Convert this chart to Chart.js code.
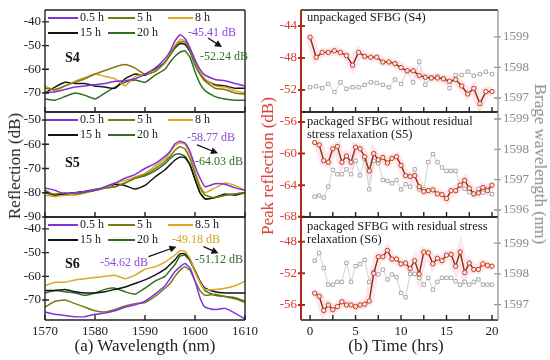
<!DOCTYPE html>
<html>
<head>
<meta charset="utf-8">
<script src="https://cdn.jsdelivr.net/npm/chart.js@4.4.1/dist/chart.umd.min.js"></script>
<style>
  body { margin: 0; background: #fff; }
  #quadro { position: relative; width: 550px; height: 360px; overflow: hidden; font-family: 'Liberation Serif', serif; }
  #quadro canvas { position: absolute; }
  .titulo { position: absolute; font-size: 17px; white-space: nowrap; transform: translate(-50%, -50%); }
</style>
</head>
<body>
<div id="quadro">
  <div class="titulo" style="left:15px; top:166px; transform:translate(-50%,-50%) rotate(-90deg); color:#222;">Reflection (dB)</div>
  <div class="titulo" style="left:268px; top:166px; transform:translate(-50%,-50%) rotate(-90deg); color:#d63a2e;">Peak reflection (dB)</div>
  <div class="titulo" style="left:540px; top:164px; transform:translate(-50%,-50%) rotate(90deg); color:#8a8a8a;">Brage wavelength (nm)</div>
  <div class="titulo" style="left:145px; top:346px; color:#222;">(a) Wavelength (nm)</div>
  <div class="titulo" style="left:396px; top:346px; color:#222;">(b) Time (hrs)</div>
</div>
<script>
// ---------------- dados (a): espectros ----------------
const comprimentoOnda = [1570,1572,1574,1576,1578,1580,1582,1584,1586,1588,1590,1592,1594,1595,1596,1597,1598,1599,1600,1601,1602,1604,1606,1608,1610];

const horasS4 = ['0.5 h', '5 h', '8 h', '15 h', '20 h'];
const s4_05h = [-70,-69.5,-68.5,-67.5,-67,-66.5,-66,-65,-64.8,-64,-62,-59.5,-55.5,-52.5,-48,-45.4,-47,-51,-56,-60,-62.5,-64.3,-64.8,-66,-67];
const s4_5h  = [-68,-68.5,-67,-65.5,-64,-62,-60.5,-59,-58,-59.5,-62,-61,-57,-54,-50.5,-48.5,-48.5,-52,-58,-62,-65,-68,-68.5,-70,-70.5];
const s4_8h  = [-67,-69,-67,-65,-63.5,-62,-63,-64,-67,-63,-62,-60.5,-57.5,-53.5,-50,-47.5,-48,-51,-56.5,-61,-64,-67,-67.5,-69,-70];
const s4_15h = [-70,-67.5,-65.5,-66,-66,-67,-67.5,-68,-64,-62,-62.5,-60,-57,-54,-51,-49.2,-49.5,-52.5,-58,-62,-64.5,-66.5,-67,-68,-68];
const s4_20h = [-72.5,-73,-71.5,-70,-71,-72.5,-70,-67.5,-65.5,-64.5,-65.5,-62.5,-60,-57,-54.5,-52.8,-52.2,-55,-61,-66,-69,-71.5,-72.5,-73,-73];

const horasS5 = ['0.5 h', '5 h', '8 h', '15 h', '20 h'];
const s5_05h = [-78,-79,-80.5,-80,-79.5,-79,-77.5,-76,-74,-72.5,-70,-68,-65,-63,-59.8,-58.8,-59.5,-63,-69,-74,-77.5,-76.3,-76.5,-78,-79];
const s5_5h  = [-80,-80.5,-80,-80.5,-80,-79,-78,-77.5,-76,-74,-72.5,-70,-67,-65,-62.5,-61,-62,-66,-72,-78,-81,-82,-81,-80.5,-80];
const s5_8h  = [-81,-81.5,-81,-81,-80,-79,-78,-76,-75,-73.5,-72,-69,-66,-63.5,-60.5,-59.5,-60,-64,-71,-77,-80,-78,-76,-77,-79];
const s5_15h = [-80,-81,-80.5,-80,-79.5,-79,-78,-76.5,-77,-78.5,-77,-73.5,-70.5,-68.5,-66.5,-65.3,-65.5,-68.5,-74.5,-80,-82.5,-82,-80.5,-81,-80];
const s5_20h = [-79,-81,-80.5,-80,-79.5,-78.5,-78,-77.5,-76,-74,-73,-71,-68,-66,-64.3,-64,-65,-68.5,-74.5,-80,-82.5,-82,-81,-80.5,-80];

const horasS6 = ['0.5 h', '5 h', '8.5 h', '15 h', '20 h'];
const s6_05h = [-75,-76,-76.5,-77,-77,-76,-75.5,-74.5,-73,-72,-70.5,-67.5,-64,-61,-58,-56,-54.6,-56.5,-62,-69,-73,-74,-73.5,-75.5,-78];
const s6_5h  = [-73,-70.5,-70,-71.5,-73,-74.5,-75,-74,-72.5,-71.5,-71,-68.5,-65,-63,-60,-57.5,-56,-57.5,-62,-66,-68,-67.5,-68.5,-69.5,-71];
const s6_85h = [-64,-62.5,-62.5,-61.5,-61,-60.5,-60,-59.5,-61,-59.5,-57,-56,-54,-52.5,-51,-49.2,-49.5,-52.5,-58,-62.5,-65.5,-65.5,-65,-64,-62];
const s6_15h = [-66,-66,-65.5,-66.5,-67,-67,-66.5,-65.5,-64.5,-63,-61.5,-59.5,-57,-55,-53,-50.5,-50.5,-53,-57.5,-62,-65,-66.5,-67,-67,-67];
const s6_20h = [-67,-66,-66.5,-67,-68,-67,-65.5,-65,-66.5,-67.5,-65,-62,-60,-57.5,-55,-51.5,-51.1,-53.5,-58,-62.5,-66,-68,-68.5,-69,-70.5];

// ---------------- dados (b): pico e comprimento de Bragg ----------------
const tempoS4 = [0,0.67,1.33,2,2.67,3.33,4,4.67,5.33,6,6.67,7.33,8,8.67,9.33,10,10.67,11.33,12,12.67,13.33,14,14.67,15.33,16,16.67,17.33,18,18.67,19.33,20];
const picoS4 = [-45.4,-47.9,-47.3,-47.3,-47.1,-47.3,-47.7,-48.9,-47.3,-47.8,-47.9,-47.9,-48.5,-48.5,-48.7,-49.2,-49.6,-49.6,-50.2,-50.4,-50.5,-50.5,-50.6,-50.9,-50.7,-51.5,-52.5,-51.8,-53.7,-52.2,-52.2];
const braggS4 = [1597.35,1597.38,1597.32,1597.46,1597.19,1597.51,1597.30,1597.35,1597.35,1597.43,1597.51,1597.49,1597.43,1597.35,1597.6,1597.46,1597.89,1597.51,1598.19,1597.43,1597.68,1597.71,1597.64,1597.32,1597.75,1597.75,1597.86,1597.73,1597.78,1597.86,1597.78];

const tempo = [0.5,1,1.5,2,2.5,3,3.5,4,4.5,5,5.5,6,6.5,7,7.5,8,8.5,9,9.5,10,10.5,11,11.5,12,12.5,13,13.5,14,14.5,15,15.5,16,16.5,17,17.5,18,18.5,19,19.5,20];
const picoS5 = [-58.6,-58.9,-60.9,-61.1,-59.4,-59.1,-61.1,-60.3,-61.1,-59.2,-59.4,-60.4,-62.2,-60.0,-60.8,-60.5,-61.2,-60.6,-60.4,-61.5,-62.8,-62.9,-62.8,-64.2,-64.8,-64.7,-64.6,-65.1,-65.2,-65.7,-64.7,-64.7,-64.0,-63.4,-64.4,-65.1,-65.0,-64.3,-64.7,-64.0];
const braggS5 = [1596.44,1596.48,1596.41,1596.77,1597.32,1597.18,1597.18,1597.34,1597.18,1597.62,1597.14,1597.69,1596.68,1597.62,1597.54,1596.99,1596.96,1596.88,1596.99,1596.68,1596.85,1596.77,1597.34,1596.68,1596.68,1597.58,1597.84,1597.58,1597.40,1597.29,1597.29,1597.29,1596.81,1596.70,1596.59,1596.52,1596.70,1596.57,1596.70,1596.52];
const picoS6 = [-54.5,-54.9,-56.7,-56.0,-56.6,-56.2,-55.6,-56.0,-56.0,-56.2,-56.0,-55.9,-55.5,-52.0,-49.9,-49.9,-49.1,-50.2,-50.2,-50.8,-50.7,-51.4,-50.4,-52.1,-49.3,-49.4,-50.8,-50.1,-50.4,-49.7,-49.6,-51.1,-49.3,-51.9,-50.7,-51.5,-51.5,-50.8,-51.0,-51.1];
const braggS6 = [1598.43,1598.68,1598.19,1597.65,1597.65,1597.74,1597.74,1598.36,1597.74,1598.25,1598.32,1598.46,1597.74,1598.06,1597.98,1598.14,1597.82,1597.98,1597.89,1597.38,1597.24,1598.0,1598.0,1597.87,1597.65,1597.87,1597.49,1597.74,1597.87,1597.87,1597.87,1597.76,1597.65,1597.74,1597.65,1597.74,1597.82,1597.65,1597.65,1597.65];

// ---------------- estilos ----------------
const coresHoras = ['#8232dc', '#7a7a14', '#e0a822', '#141414', '#2f6f22'];
const corVermelho = '#d63a2e';
const corCinza = '#8a8a8a';
const fonteTick = { family: 'Liberation Serif', size: 13 };

const molduraPlugin = {
  id: 'moldura',
  afterDatasetsDraw(chart, args, o) {
    const { ctx, chartArea: a, scales } = chart;
    ctx.save();
    ctx.lineWidth = 1.4;
    ctx.strokeStyle = '#222';
    ctx.beginPath();
    scales.x.ticks.forEach(t => {
      const px = scales.x.getPixelForValue(t.value);
      ctx.moveTo(px, a.bottom); ctx.lineTo(px, a.bottom - 5);
    });
    ctx.moveTo(a.left, a.top); ctx.lineTo(a.right, a.top);
    ctx.moveTo(a.left, a.bottom); ctx.lineTo(a.right, a.bottom);
    ctx.stroke();

    ctx.strokeStyle = o.corEsq;
    ctx.lineWidth = o.larguraEsq;
    ctx.beginPath();
    ctx.moveTo(a.left, a.top); ctx.lineTo(a.left, a.bottom);
    scales.y.ticks.forEach(t => {
      const py = scales.y.getPixelForValue(t.value);
      ctx.moveTo(a.left - 3, py); ctx.lineTo(a.left + 4, py);
    });
    ctx.stroke();

    ctx.strokeStyle = o.corDir;
    ctx.lineWidth = 1.4;
    ctx.beginPath();
    ctx.moveTo(a.right, a.top); ctx.lineTo(a.right, a.bottom);
    if (scales.y2) {
      scales.y2.ticks.forEach(t => {
        const py = scales.y2.getPixelForValue(t.value);
        ctx.moveTo(a.right - 4, py); ctx.lineTo(a.right + 3, py);
      });
    }
    ctx.stroke();
    ctx.restore();
  }
};

function seta(ctx, x1, y1, x2, y2) {
  const ang = Math.atan2(y2 - y1, x2 - x1);
  ctx.beginPath();
  ctx.moveTo(x1, y1); ctx.lineTo(x2 - 4 * Math.cos(ang), y2 - 4 * Math.sin(ang));
  ctx.stroke();
  ctx.beginPath();
  ctx.moveTo(x2, y2);
  ctx.lineTo(x2 - 7 * Math.cos(ang) + 3.5 * Math.sin(ang), y2 - 7 * Math.sin(ang) - 3.5 * Math.cos(ang));
  ctx.lineTo(x2 - 7 * Math.cos(ang) - 3.5 * Math.sin(ang), y2 - 7 * Math.sin(ang) + 3.5 * Math.cos(ang));
  ctx.closePath();
  ctx.fill();
}

const notasPlugin = {
  id: 'notas',
  afterDraw(chart, args, o) {
    const { ctx, chartArea: a, scales } = chart;
    const x = scales.x, y = scales.y;
    ctx.save();
    ctx.textBaseline = 'middle';
    ctx.textAlign = 'left';

    // legenda em duas linhas
    (o.legenda || []).forEach(l => {
      ctx.strokeStyle = l.cor; ctx.lineWidth = 2;
      ctx.beginPath();
      ctx.moveTo(a.left + l.dx, a.top + l.dy); ctx.lineTo(a.left + l.dx + l.w, a.top + l.dy);
      ctx.stroke();
      ctx.fillStyle = '#222';
      ctx.font = '12px "Liberation Serif"';
      ctx.fillText(l.texto, a.left + l.dx + l.w + 2, a.top + l.dy);
    });

    // titulo do painel (b)
    (o.titulo || []).forEach((linha, i) => {
      ctx.fillStyle = '#1a1a1a';
      ctx.font = '12.5px "Liberation Serif"';
      ctx.fillText(linha, a.left + 6, a.top + o.tituloDy[i]);
    });

    if (o.nome) {
      ctx.fillStyle = '#111';
      ctx.font = 'bold 14px "Liberation Serif"';
      ctx.fillText(o.nome.texto, x.getPixelForValue(o.nome.x), y.getPixelForValue(o.nome.y));
    }

    (o.textos || []).forEach(t => {
      ctx.fillStyle = t.cor;
      ctx.font = '12px "Liberation Serif"';
      ctx.fillText(t.texto, x.getPixelForValue(t.x), y.getPixelForValue(t.y));
    });

    ctx.strokeStyle = '#111'; ctx.fillStyle = '#111'; ctx.lineWidth = 1.3;
    (o.setas || []).forEach(s => {
      seta(ctx, x.getPixelForValue(s[0]), y.getPixelForValue(s[1]), x.getPixelForValue(s[2]), y.getPixelForValue(s[3]));
    });
    ctx.restore();
  }
};

function eixoY(min, max, passo, cor, largura, posicao, pad) {
  return {
    type: 'linear', position: posicao, min: min, max: max,
    grid: { display: false, drawTicks: false }, border: { display: false },
    ticks: { stepSize: passo, includeBounds: false, color: cor, font: fonteTick, padding: pad, callback: v => String(v) },
    afterFit: s => { s.width = largura; s.paddingTop = 0; s.paddingBottom = 0; }
  };
}

function eixoX(min, max, passo, mostrar, altura, rotulo) {
  return {
    type: 'linear', min: min, max: max,
    grid: { display: false, drawTicks: false }, border: { display: false },
    ticks: { stepSize: passo, includeBounds: false, display: mostrar, color: '#222', font: fonteTick, padding: 4, maxRotation: 0, autoSkip: false, callback: rotulo },
    afterFit: s => { s.height = altura; s.paddingLeft = 0; s.paddingRight = 0; }
  };
}

function montarLegenda(rotulos) {
  const colunas = [3, 63, 123];
  const larguras = [30, 27, 25];
  return rotulos.map((r, i) => ({
    texto: r, cor: coresHoras[i],
    dx: colunas[i % 3], w: larguras[i % 3], dy: i < 3 ? 8 : 23
  }));
}

function criarCanvas(left, top, w, h) {
  const c = document.createElement('canvas');
  c.width = w; c.height = h;
  c.style.left = left + 'px'; c.style.top = top + 'px';
  c.style.width = w + 'px'; c.style.height = h + 'px';
  document.getElementById('quadro').insertBefore(c, document.querySelector('.titulo'));
  return c;
}

// ---------------- paineis (a) ----------------
const paineisEsq = [
  { top: 0, altura: 120, padTop: 10, padBottom: 8, min: -78, max: -35, base: false,
    series: [s4_05h, s4_5h, s4_8h, s4_15h, s4_20h], rotulos: horasS4,
    nome: { texto: 'S4', x: 1574, y: -55.6 },
    textos: [ { texto: '-45.41 dB', x: 1598.6, y: -44.6, cor: '#8a4ad8' }, { texto: '-52.24 dB', x: 1601.0, y: -54.8, cor: '#2f6f22' } ],
    setas: [ [1602.6, -46.8, 1605.4, -50.6] ] },
  { top: 104, altura: 126, padTop: 8, padBottom: 13, min: -90, max: -46.7, base: false,
    series: [s5_05h, s5_5h, s5_8h, s5_15h, s5_20h], rotulos: horasS5,
    nome: { texto: 'S5', x: 1574, y: -67.8 },
    textos: [ { texto: '-58.77 dB', x: 1598.4, y: -57.4, cor: '#8a4ad8' }, { texto: '-64.03 dB', x: 1600.0, y: -67.3, cor: '#2f6f22' } ],
    setas: [ [1600.4, -60.3, 1604.6, -63.7] ] },
  { top: 209, altura: 151, padTop: 8, padBottom: 18, min: -78.4, max: -35, base: true,
    series: [s6_05h, s6_5h, s6_85h, s6_15h, s6_20h], rotulos: horasS6,
    nome: { texto: 'S6', x: 1574, y: -54.8 },
    textos: [ { texto: '-49.18 dB', x: 1595.4, y: -44.6, cor: '#d8a020' }, { texto: '-54.62 dB', x: 1581, y: -54.5, cor: '#8a4ad8' }, { texto: '-51.12 dB', x: 1600, y: -53.1, cor: '#2f6f22' } ],
    setas: [ [1590.7, -51.7, 1596.3, -47.5], [1601.7, -47.5, 1604.7, -50.3] ] }
];

for (const p of paineisEsq) {
  const canvas = criarCanvas(0, p.top, 262, p.altura);
  new Chart(canvas, {
    type: 'line',
    data: {
      datasets: p.series.map((valores, i) => ({
        data: valores.map((v, k) => ({ x: comprimentoOnda[k], y: v })),
        borderColor: coresHoras[i], borderWidth: 1.5, pointRadius: 0, tension: 0.15, fill: false
      }))
    },
    options: {
      animation: false, responsive: false, devicePixelRatio: 1,
      layout: { padding: { top: p.padTop, bottom: p.padBottom, left: 0, right: 17 } },
      plugins: {
        legend: { display: false }, tooltip: { enabled: false },
        moldura: { corEsq: '#222', corDir: '#222', larguraEsq: 1.4 },
        notas: { legenda: montarLegenda(p.rotulos), nome: p.nome, textos: p.textos, setas: p.setas }
      },
      scales: {
        x: eixoX(1570, 1610, 10, p.base, p.base ? 22 : 0, v => String(v)),
        y: eixoY(p.min, p.max, 10, '#222', 45, 'left', 4)
      }
    },
    plugins: [molduraPlugin, notasPlugin]
  });
}

// ---------------- paineis (b) ----------------
const paineisDir = [
  { top: 0, altura: 120, padTop: 10, padBottom: 8, min: -54.75, max: -42, min2: 1596.54, max2: 1599.88, base: false,
    t: tempoS4, pico: picoS4, bragg: braggS4, titulo: ['unpackaged SFBG (S4)'], tituloDy: [8] },
  { top: 104, altura: 126, padTop: 8, padBottom: 13, min: -68.04, max: -54.73, min2: 1595.77, max2: 1599.23, base: false,
    t: tempo, pico: picoS5, bragg: braggS5, titulo: ['packaged SFBG without residual', 'stress relaxation (S5)'], tituloDy: [10, 23] },
  { top: 209, altura: 151, padTop: 8, padBottom: 18, min: -57.9, max: -44.87, min2: 1596.5, max2: 1599.85, base: true,
    t: tempo, pico: picoS6, bragg: braggS6, titulo: ['packaged SFBG with residual stress', 'relaxation (S6)'], tituloDy: [10, 23] }
];

for (const p of paineisDir) {
  const canvas = criarCanvas(255, p.top, 285, p.altura);
  const pontosPico = p.pico.map((v, k) => ({ x: p.t[k], y: v }));
  new Chart(canvas, {
    type: 'line',
    data: {
      datasets: [
        { data: pontosPico, yAxisID: 'y', order: 1, borderColor: '#8b2c12', borderWidth: 1.4, tension: 0,
          pointStyle: 'circle', pointRadius: 2.2, pointBorderWidth: 1, pointBorderColor: '#c83a1e', pointBackgroundColor: '#f8e6dc' },
        { data: p.bragg.map((v, k) => ({ x: p.t[k], y: v })), yAxisID: 'y2', order: 2, borderColor: '#d2d2d2', borderWidth: 1, tension: 0,
          pointStyle: 'rect', pointRadius: 2.4, pointBorderWidth: 1, pointBorderColor: '#ababab', pointBackgroundColor: '#ffffff' },
        { data: pontosPico, yAxisID: 'y', order: 3, borderColor: 'rgba(250,175,200,0.3)', borderWidth: 9, tension: 0, pointRadius: 0 }
      ]
    },
    options: {
      animation: false, responsive: false, devicePixelRatio: 1,
      layout: { padding: { top: p.padTop, bottom: p.padBottom, left: 0, right: 5 } },
      plugins: {
        legend: { display: false }, tooltip: { enabled: false },
        moldura: { corEsq: '#b02a1a', corDir: '#999', larguraEsq: 2 },
        notas: { titulo: p.titulo, tituloDy: p.tituloDy }
      },
      scales: {
        x: eixoX(-1, 20.66, 2.5, p.base, p.base ? 22 : 0, v => (v % 5 === 0 ? String(v) : '')),
        y: eixoY(p.min, p.max, 4, corVermelho, 46, 'left', 4),
        y2: eixoY(p.min2, p.max2, 1, corCinza, 37, 'right', 5)
      }
    },
    plugins: [molduraPlugin, notasPlugin]
  });
}
</script>
</body>
</html>
